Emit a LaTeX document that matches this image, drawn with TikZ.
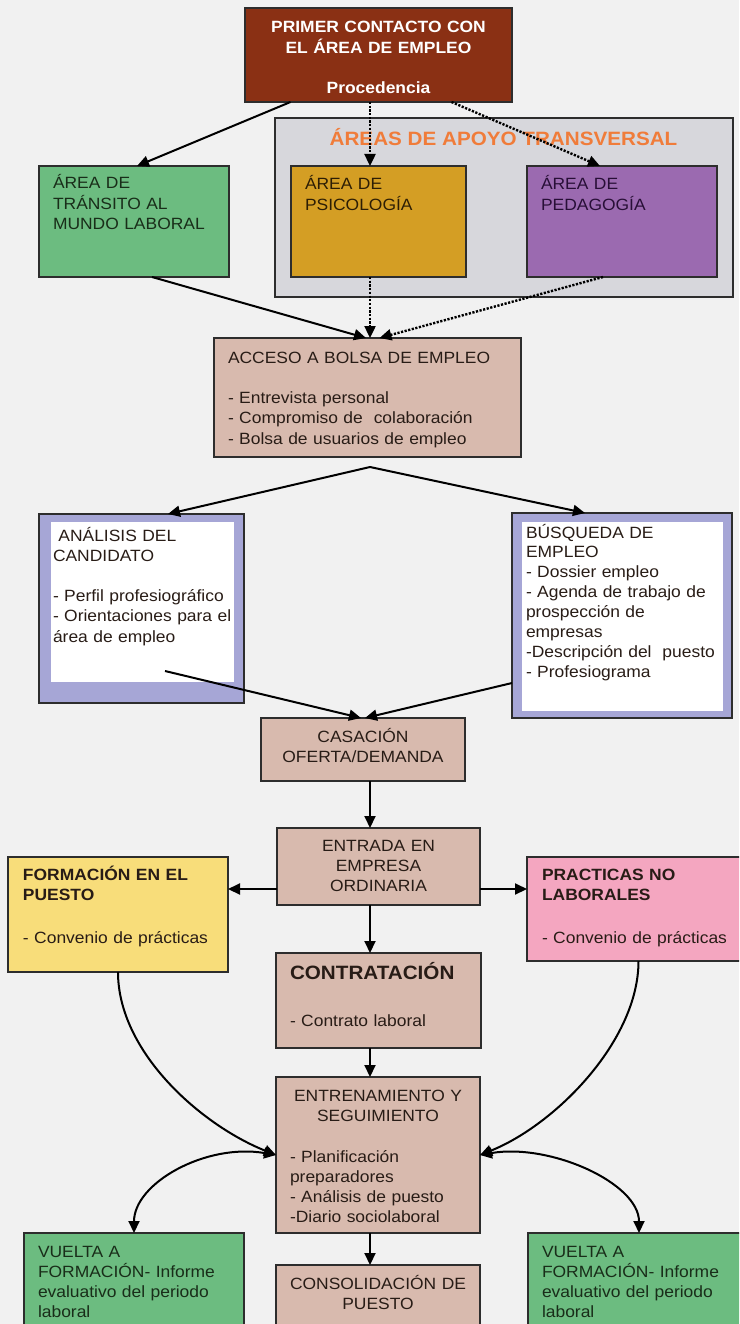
\documentclass[tikz,border=0pt]{standalone}
\usepackage{fontspec}
\setmainfont{Liberation Sans}[FakeStretch=1.07]
\usetikzlibrary{arrows.meta}
\definecolor{cBg}{RGB}{241,241,241}
\definecolor{cLine}{RGB}{45,45,45}
\definecolor{cRust}{RGB}{138,48,20}
\definecolor{cArea}{RGB}{215,215,220}
\definecolor{cGold}{RGB}{212,158,36}
\definecolor{cPeda}{RGB}{155,106,176}
\definecolor{cGreen}{RGB}{108,188,128}
\definecolor{cBrown}{RGB}{216,186,174}
\definecolor{cLav}{RGB}{166,166,214}
\definecolor{cYellow}{RGB}{248,221,122}
\definecolor{cPink}{RGB}{244,166,192}
\definecolor{cOrange}{RGB}{240,124,58}
\definecolor{tGreen}{RGB}{25,45,25}
\definecolor{tGold}{RGB}{45,30,5}
\definecolor{tPeda}{RGB}{40,15,55}
\definecolor{tDark}{RGB}{40,28,22}
\begin{document}
\begin{tikzpicture}[x=1pt,y=-1pt,
  box/.style={draw=cLine, line width=1.5pt, inner sep=0pt, outer sep=0pt, anchor=north west},
  plain/.style={inner sep=0pt, outer sep=0pt, anchor=north west},
  txt/.style={anchor=north west, inner sep=0pt, outer sep=0pt, align=left, text width=300pt,
    text=tDark, font=\fontsize{16.3}{20.2}\selectfont, execute at begin node={\rule{0pt}{16pt}}},
  ctxt/.style={txt, anchor=north, align=center, text width=240pt},
  big/.style={anchor=base west, inner sep=0pt, outer sep=0pt, text=tDark, font=\fontsize{19.3}{23}\selectfont\bfseries},
  tip/.style={Triangle[length=12pt,width=11pt]},
  arr/.style={line width=2pt, draw=black, -{Triangle[length=12pt,width=11pt]}},
  darr/.style={line width=2pt, draw=black, {Triangle[length=12pt,width=11pt]}-{Triangle[length=12pt,width=11pt]}},
  dots/.style={arr, line width=2.4pt, dash pattern=on 2.2pt off 1.5pt},
]
\useasboundingbox (0,0) rectangle (739,1324);
\clip (0,0) rectangle (739,1324);
\fill[cBg] (0,0) rectangle (739,1324);

% boxes
\node[box, fill=cRust, minimum width=267pt, minimum height=94pt] (prim) at (245,8) {};
\node[box, fill=cArea, minimum width=458pt, minimum height=179pt] (apoyo) at (275,118) {};
\node[box, fill=cGold, minimum width=175pt, minimum height=111pt] (psic) at (291,166) {};
\node[box, fill=cPeda, minimum width=190pt, minimum height=111pt] (peda) at (527,166) {};
\node[box, fill=cGreen, minimum width=190pt, minimum height=111pt] (trans) at (39,166) {};
\node[box, fill=cBrown, minimum width=307pt, minimum height=119pt] (acceso) at (214,338) {};
\node[box, fill=cLav, minimum width=205pt, minimum height=189pt] (anal) at (39,514) {};
\node[plain, fill=white, minimum width=183pt, minimum height=160pt] (analin) at (51,522) {};
\node[box, fill=cLav, minimum width=220pt, minimum height=205pt] (busq) at (512,513) {};
\node[plain, fill=white, minimum width=201pt, minimum height=189pt] (busqin) at (522,522) {};
\node[box, fill=cBrown, minimum width=204pt, minimum height=63pt] (cas) at (261,718) {};
\node[box, fill=cBrown, minimum width=203pt, minimum height=77pt] (entr) at (277,828) {};
\node[box, fill=cYellow, minimum width=220pt, minimum height=115pt] (form) at (8,857) {};
\node[box, fill=cPink, minimum width=223pt, minimum height=104pt] (prac) at (527,857) {};
\node[box, fill=cBrown, minimum width=205pt, minimum height=95pt] (cont) at (276,953) {};
\node[box, fill=cBrown, minimum width=204pt, minimum height=156pt] (ent2) at (276,1077) {};
\node[box, fill=cBrown, minimum width=204pt, minimum height=80pt] (cons) at (276,1265) {};
\node[box, fill=cGreen, minimum width=220pt, minimum height=100pt] (vl) at (24,1233) {};
\node[box, fill=cGreen, minimum width=222pt, minimum height=100pt] (vr) at (528,1233) {};

% texts
\node[ctxt, text width=260pt, text=white, font=\fontsize{16.3}{20.2}\selectfont\bfseries] (primT) at (378.5,17)
  {PRIMER CONTACTO CON\\EL ÁREA DE EMPLEO\\[20.4pt]Procedencia};
\node[anchor=base, inner sep=0pt, text=cOrange, font=\fontsize{19.3}{23}\selectfont\bfseries] (apoyoT) at (503.5,146)
  {ÁREAS DE APOYO TRANSVERSAL};
\node[txt, text=tGold] (psicT) at (305,174) {ÁREA DE\\PSICOLOGÍA};
\node[txt, text=tPeda] (pedaT) at (541,174) {ÁREA DE\\PEDAGOGÍA};
\node[txt, text=tGreen] (transT) at (53,173) {ÁREA DE\\TRÁNSITO AL\\MUNDO LABORAL};
\node[txt] (accT) at (228,347) {ACCESO A BOLSA DE EMPLEO\\[20.4pt]- Entrevista personal\\- Compromiso de\ \ colaboración\\- Bolsa de usuarios de empleo};
\node[txt] (analT) at (53,525) {\ ANÁLISIS DEL\\CANDIDATO\\[20.2pt]- Perfil profesiográfico\\- Orientaciones para el\\área de empleo};
\node[txt, font=\fontsize{16.3}{19.9}\selectfont] (busqT) at (526,522) {BÚSQUEDA DE\\EMPLEO\\- Dossier empleo\\- Agenda de trabajo de\\prospección de\\empresas\\-Descripción del\ \ puesto\\- Profesiograma};
\node[ctxt] (casT) at (363,726) {CASACIÓN\\OFERTA/DEMANDA};
\node[ctxt] (entrT) at (378.5,835) {ENTRADA EN\\EMPRESA\\ORDINARIA};
\node[txt] (formT) at (23,864) {\textbf{FORMACIÓN EN EL}\\\textbf{PUESTO}\\[22.8pt]- Convenio de prácticas};
\node[txt] (pracT) at (542,864) {\textbf{PRACTICAS NO}\\\textbf{LABORALES}\\[22.8pt]- Convenio de prácticas};
\node[big] (contT1) at (290,979) {CONTRATACIÓN};
\node[txt] (contT2) at (290,1010) {- Contrato laboral};
\node[ctxt] (ent2T1) at (378,1085) {ENTRENAMIENTO Y\\SEGUIMIENTO};
\node[txt] (ent2T2) at (290,1146) {- Planificación\\preparadores\\- Análisis de puesto\\-Diario sociolaboral};
\node[ctxt] (consT) at (378,1273) {CONSOLIDACIÓN DE\\PUESTO};
\node[txt, text=tGreen] (vlT) at (38,1241) {VUELTA A\\FORMACIÓN- Informe\\evaluativo del periodo\\laboral};
\node[txt, text=tGreen] (vrT) at (542,1241) {VUELTA A\\FORMACIÓN- Informe\\evaluativo del periodo\\laboral};

% connectors
\draw[arr] ([xshift=-88pt]prim.south) -- ([xshift=3pt]trans.north);
\draw[dots] ([xshift=-8.5pt]prim.south) -- ([xshift=-8.5pt]psic.north);
\draw[dots] ([xshift=73pt]prim.south) -- ([xshift=-22pt]peda.north);
\draw[arr] ([xshift=18pt]trans.south) -- ([xshift=-1.5pt]acceso.north);
\draw[dots] ([xshift=-8.5pt]psic.south) -- ([xshift=2.5pt]acceso.north);
\draw[dots] ([xshift=-19pt]peda.south) -- ([xshift=12pt]acceso.north);
\coordinate (split) at (370,467);
\draw[arr] (split) -- ([xshift=26.5pt]anal.north);
\draw[arr] (split) -- ([xshift=-37pt]busq.north);
\coordinate (aout) at (165,671);
\draw[arr] (aout) -- ([xshift=-2pt]cas.north);
\draw[arr] ([yshift=-67.5pt]busq.west) -- ([xshift=2pt]cas.north);
\draw[arr] ([xshift=7pt]cas.south) -- ([xshift=-8.5pt]entr.north);
\draw[arr] ([yshift=-22.5pt]entr.west) -- ([yshift=-22.5pt]entr.west -| form.east);
\draw[arr] ([yshift=-22.5pt]entr.east) -- ([yshift=-22.5pt]entr.east -| prac.west);
\draw[arr] ([xshift=-8.5pt]entr.south) -- ([xshift=-8.5pt]cont.north);
\draw[arr] ([xshift=-8.5pt]cont.south) -- ([xshift=-8pt]ent2.north);
\draw[arr] ([xshift=-8pt]ent2.south) -- ([xshift=-8pt]cons.north);
\draw[arr] (form.south) .. controls +(0,80) and +(-75,-30) .. (ent2.west);
\draw[arr] (prac.south) .. controls +(0,80) and +(75,-30) .. (ent2.east);
\draw[darr] (ent2.west) .. controls +(-70,-12) and +(0,-50) .. (vl.north);
\draw[darr] (ent2.east) .. controls +(70,-12) and +(0,-50) .. (vr.north);
\end{tikzpicture}
\end{document}
